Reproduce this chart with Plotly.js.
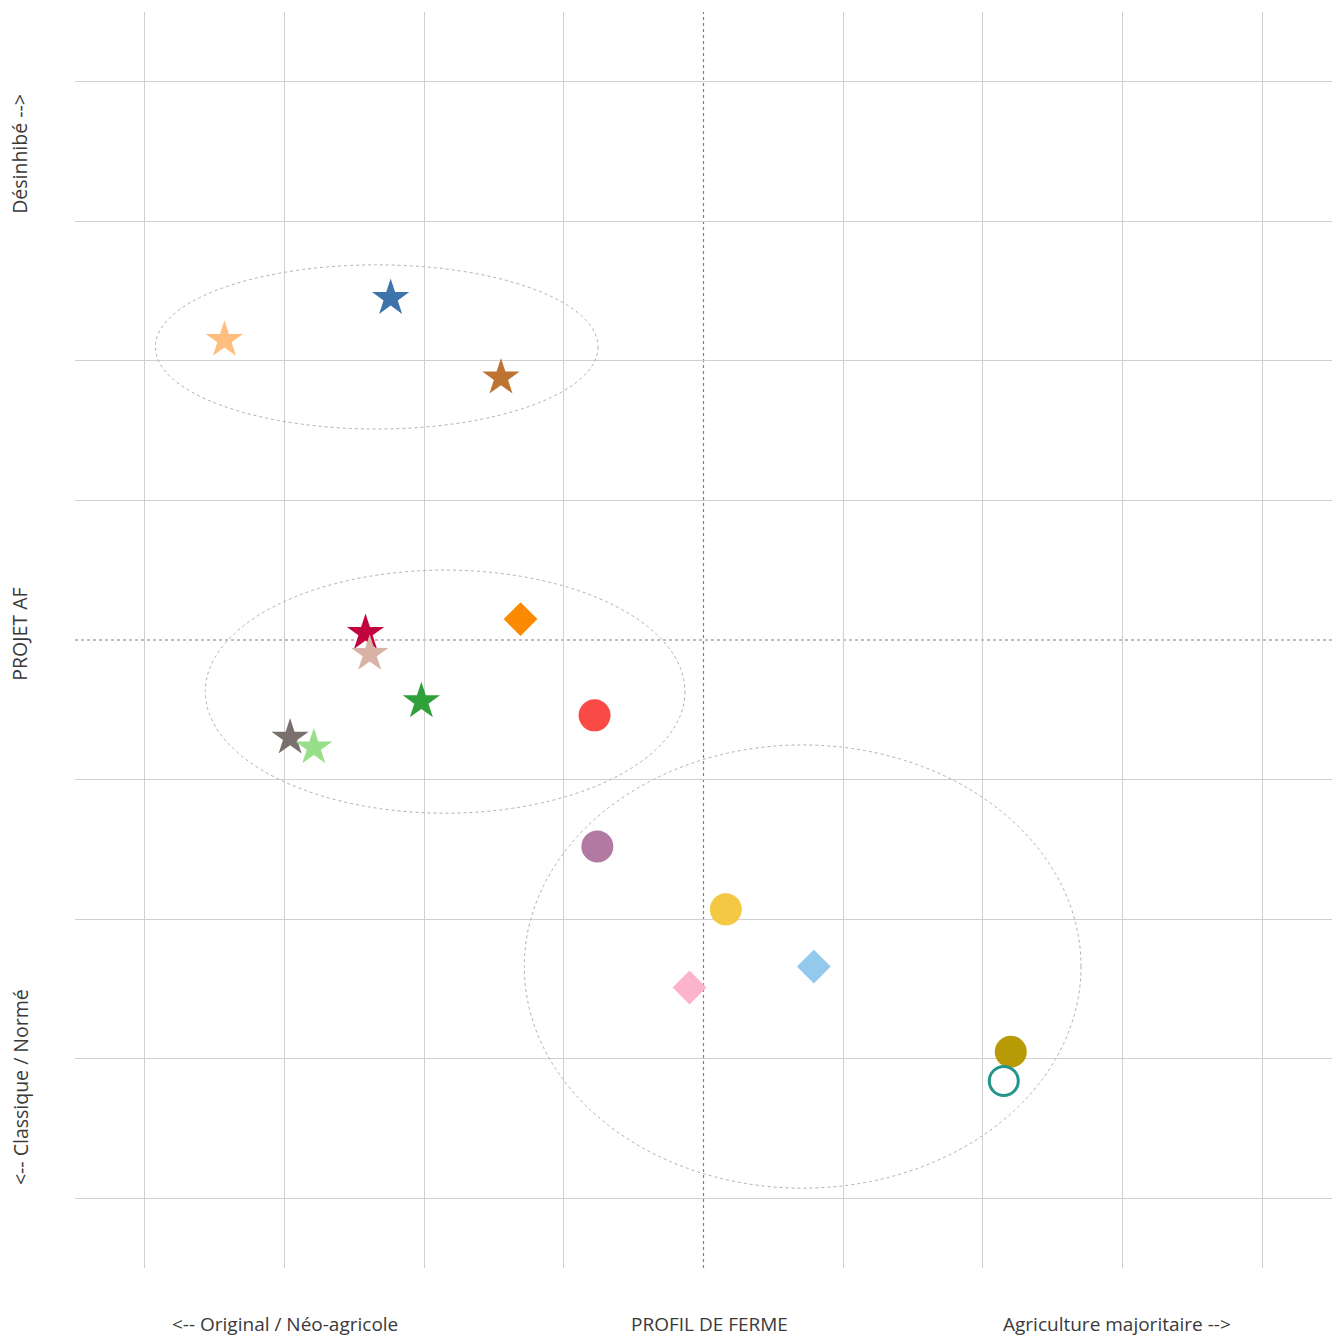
<!DOCTYPE html>
<html>
<head>
<meta charset="utf-8">
<script src="https://cdn.plot.ly/plotly-3.0.1.min.js"></script>
<style>html,body{margin:0;padding:0;background:#fff;}#chart{width:1333px;height:1340px;}</style>
</head>
<body>
<div id="chart"></div>
<script>
// Data
const pointNames = ["A","B","C","D","E","F","G","H","I","J","K","L","M","N","O","P"];
const pointX = [-3.43, -2.24, -1.45, -1.31, -2.42, -2.39, -2.02, -0.78, -2.96, -2.79, -0.76, 0.16, 0.79, -0.10, 2.20, 2.15];
const pointY = [2.15, 2.45, 1.88, 0.15, 0.05, -0.10, -0.44, -0.54, -0.70, -0.77, -1.48, -1.93, -2.34, -2.49, -2.95, -3.16];
const pointShape = ["star","star","star","diamond","star","star","star","circle","star","star","circle","circle","diamond","diamond","circle","circle-open"];
const pointColor = ["#FFBE7D","#3E73AC","#BD7430","#FC8A00","#C2043E","#D8B3A5","#2FA03A","#FA4A46","#79706E","#98DF8A","#B279A3","#F4C842","#92C9EC","#FBB4CC","#B89A06","#24958A"];

// Cluster ellipses: centre x, centre y, half-width, half-height (data units)
const ellCx = [-2.34, -1.85, 0.71];
const ellCy = [2.10, -0.37, -2.34];
const ellRx = [1.585, 1.717, 1.993];
const ellRy = [0.588, 0.871, 1.588];

// Axis labels
const xLabels = ["<-- Original / Néo-agricole", "PROFIL DE FERME", "Agriculture majoritaire -->"];
const yLabels = ["Désinhibé -->", "PROJET AF", "<-- Classique / Normé"];
const gridVals = [-4,-3,-2,-1,1,2,3,4];
const axisRange = [-4.5, 4.5];
const centre = 0;

const traces = pointX.map((x, i) => {
  const sym = pointShape[i];
  let size = 32;
  if (sym === "star") size = 28;
  if (sym === "diamond") size = 26;
  const open = sym === "circle-open";
  return {
    type: "scatter", mode: "markers", name: pointNames[i],
    x: [x], y: [pointY[i]],
    marker: {
      symbol: sym, size: open ? 29 : size, color: pointColor[i],
      line: open ? {color: pointColor[i], width: 3} : {width: 0}
    },
    hoverinfo: "skip"
  };
});

const shapes = [];
ellCx.forEach((cx, i) => {
  shapes.push({type: "circle", xref: "x", yref: "y",
    x0: cx - ellRx[i], x1: cx + ellRx[i], y0: ellCy[i] - ellRy[i], y1: ellCy[i] + ellRy[i],
    line: {color: "#b0b0b0", width: 1, dash: "dot"}, layer: "above"});
});
shapes.push({type: "line", xref: "x", yref: "paper", x0: centre, x1: centre, y0: 0, y1: 1,
  line: {color: "#808080", width: 1.2, dash: "dot"}, layer: "below"});
shapes.push({type: "line", xref: "paper", yref: "y", x0: 0, x1: 1, y0: centre, y1: centre,
  line: {color: "#808080", width: 1.2, dash: "dot"}, layer: "below"});

const fam = "Open Sans, Noto Sans, sans-serif";
const annotations = [];
const xPos = [0.167, 0.505, 0.829];
xLabels.forEach((t, i) => annotations.push({text: t, xref: "paper", yref: "paper", x: xPos[i], y: -0.0445,
  xanchor: "center", yanchor: "middle", showarrow: false, font: {family: fam, size: 19, color: "#3a3a3a"}}));
const yPos = [0.887, 0.505, 0.144];
yLabels.forEach((t, i) => annotations.push({text: t, xref: "paper", yref: "paper", x: -0.0438, y: yPos[i],
  xanchor: "center", yanchor: "middle", showarrow: false, textangle: -90, font: {family: fam, size: 19.5, color: "#3a3a3a"}}));

const axisCommon = {range: axisRange, tickvals: gridVals, showticklabels: false, ticks: "",
  zeroline: false, showline: false, gridcolor: "#d0d0d0", gridwidth: 1, fixedrange: true};

const layout = {
  width: 1333, height: 1340,
  margin: {l: 75, r: 1, t: 12, b: 72},
  paper_bgcolor: "#fff", plot_bgcolor: "#fff",
  showlegend: false,
  xaxis: Object.assign({}, axisCommon),
  yaxis: Object.assign({}, axisCommon),
  shapes: shapes,
  annotations: annotations
};

Plotly.newPlot("chart", traces, layout, {displayModeBar: false, staticPlot: true});
</script>
</body>
</html>
